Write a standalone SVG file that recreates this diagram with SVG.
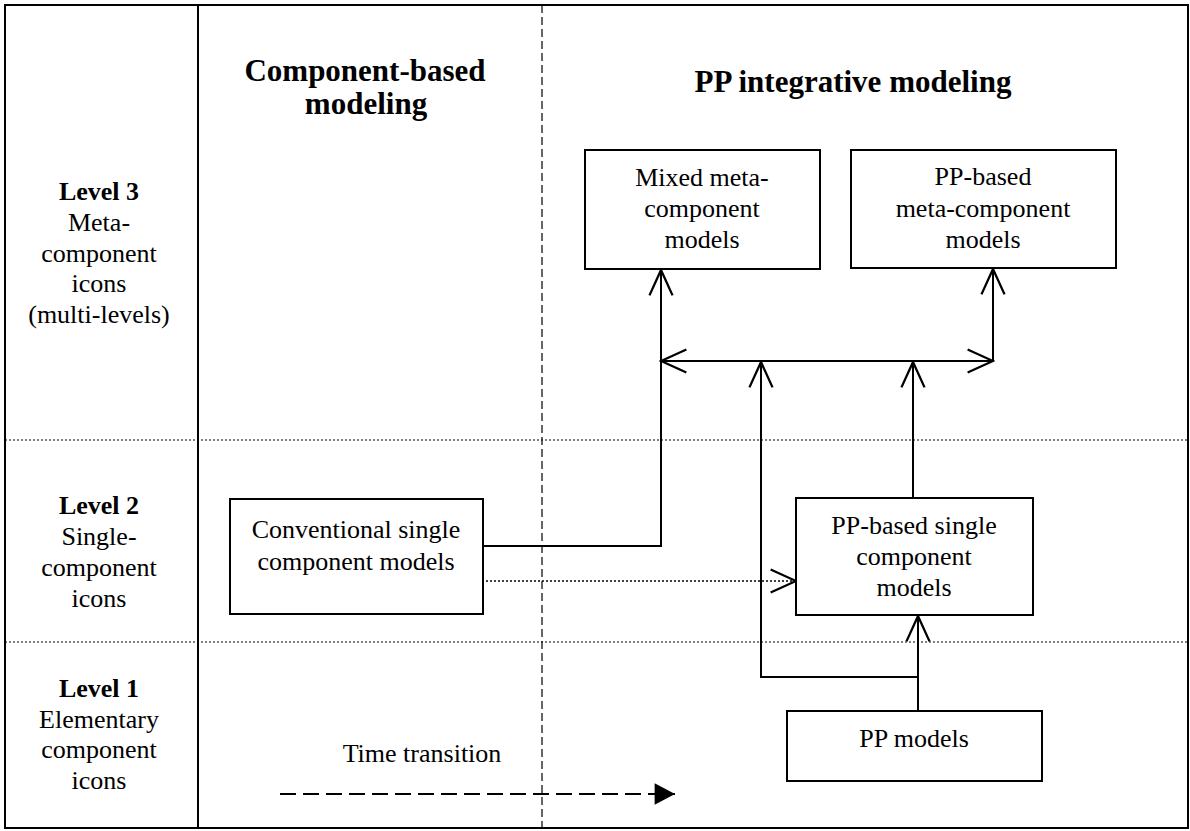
<svg xmlns="http://www.w3.org/2000/svg" width="1190" height="831" viewBox="0 0 1190 831">
<defs>
<style>
text{font-family:"Liberation Serif","Times New Roman",serif;fill:#000;text-anchor:middle}
.t{font-size:26px}
.b{font-size:26px;font-weight:bold}
.h{font-size:31px;font-weight:bold}
.box{fill:#fff;stroke:#000;stroke-width:2}
.ln{fill:none;stroke:#000;stroke-width:2}
.dot{fill:none;stroke:#000;stroke-width:1.2;stroke-dasharray:2 2}
</style>
<marker id="open" markerUnits="userSpaceOnUse" markerWidth="30" markerHeight="30" viewBox="-24 -12 26 24" refX="0" refY="0" orient="auto-start-reverse">
<path d="M-22,-10 L0,0 L-22,10" fill="none" stroke="#000" stroke-width="2"/>
</marker>
<marker id="solid" markerUnits="userSpaceOnUse" markerWidth="30" markerHeight="30" viewBox="-26 -13 28 26" refX="0" refY="0" orient="auto">
<path d="M-19,-10 L0,0 L-19,10 Z" fill="#000"/>
</marker>
</defs>
<rect width="1190" height="831" fill="#fff"/>
<g id="frame">
<rect x="5" y="5" width="1183" height="823" fill="none" stroke="#000" stroke-width="2"/>
<line x1="198" y1="5" x2="198" y2="828" stroke="#000" stroke-width="2"/>
<line x1="542" y1="5" x2="542" y2="828" stroke="#000" stroke-width="1.2" stroke-dasharray="8 4"/>
<line x1="5" y1="440" x2="1188" y2="440" class="dot"/>
<line x1="5" y1="642" x2="1188" y2="642" class="dot"/>
</g>
<g id="titles">
<text class="h" x="365" y="81">Component-based</text>
<text class="h" x="366" y="114">modeling</text>
<text class="h" x="853" y="92">PP integrative modeling</text>
</g>
<g id="levels">
<text class="b" x="99" y="200">Level 3</text>
<text class="t" x="99" y="231">Meta-</text>
<text class="t" x="99" y="262">component</text>
<text class="t" x="99" y="292">icons</text>
<text class="t" x="99" y="323">(multi-levels)</text>
<text class="b" x="99" y="514">Level 2</text>
<text class="t" x="99" y="545">Single-</text>
<text class="t" x="99" y="576">component</text>
<text class="t" x="99" y="607">icons</text>
<text class="b" x="99" y="697">Level 1</text>
<text class="t" x="99" y="728">Elementary</text>
<text class="t" x="99" y="758">component</text>
<text class="t" x="99" y="789">icons</text>
</g>
<g id="connectors">
<polyline class="ln" points="483,546 661,546 661,270" marker-end="url(#open)"/>
<line class="ln" x1="661" y1="361" x2="993" y2="361" marker-start="url(#open)" marker-end="url(#open)"/>
<line class="ln" x1="993" y1="361" x2="993" y2="269" marker-end="url(#open)"/>
<polyline class="ln" points="918,677 761,677 761,362" marker-end="url(#open)"/>
<line class="ln" x1="913" y1="498" x2="913" y2="362" marker-end="url(#open)"/>
<line class="ln" x1="918" y1="711" x2="918" y2="616" marker-end="url(#open)"/>
<line x1="482" y1="581" x2="796" y2="581" fill="none" stroke="#000" stroke-width="1.5" stroke-dasharray="2 2" marker-end="url(#open)"/>
<line x1="280" y1="794" x2="675" y2="794" stroke="#000" stroke-width="2" stroke-dasharray="16 7" marker-end="url(#solid)"/>
</g>
<g id="mixed">
<rect class="box" x="585" y="150" width="235" height="119"/>
<text class="t" x="702" y="186">Mixed meta-</text>
<text class="t" x="702" y="217">component</text>
<text class="t" x="702" y="248">models</text>
</g>
<g id="ppmeta">
<rect class="box" x="851" y="150" width="265" height="118"/>
<text class="t" x="983" y="185">PP-based</text>
<text class="t" x="983" y="217">meta-component</text>
<text class="t" x="983" y="248">models</text>
</g>
<g id="conventional">
<rect class="box" x="230" y="499" width="253" height="115"/>
<text class="t" x="356" y="538">Conventional single</text>
<text class="t" x="356" y="570">component models</text>
</g>
<g id="ppsingle">
<rect class="box" x="796" y="498" width="237" height="117"/>
<text class="t" x="914" y="534">PP-based single</text>
<text class="t" x="914" y="565">component</text>
<text class="t" x="914" y="596">models</text>
</g>
<g id="ppmodels">
<rect class="box" x="787" y="711" width="255" height="70"/>
<text class="t" x="914" y="747">PP models</text>
</g>
<g id="time">
<text class="t" x="422" y="762">Time transition</text>
</g>
</svg>
